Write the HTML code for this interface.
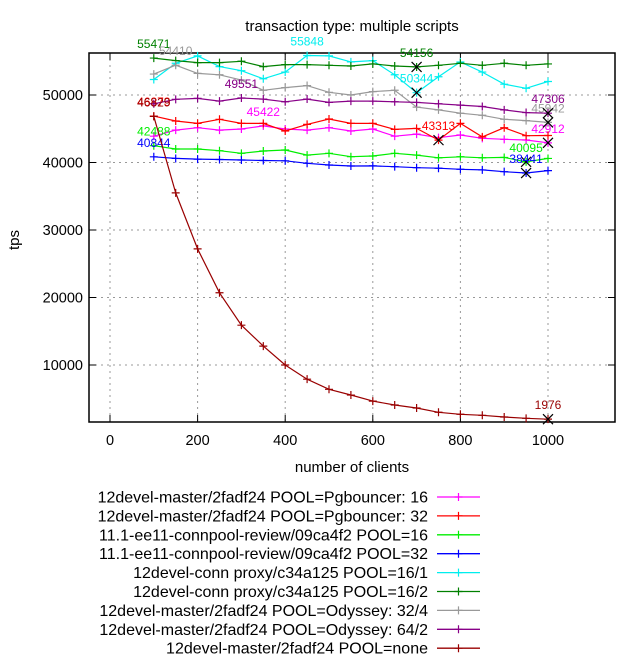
<!DOCTYPE html>
<html><head><meta charset="utf-8"><style>
html,body{margin:0;padding:0;background:#fff;}
svg{display:block;font-family:"Liberation Sans",sans-serif;}
</style></head><body>
<svg id="chart" width="640" height="660" viewBox="0 0 640 660" xmlns="http://www.w3.org/2000/svg"></svg>
<script>
const xValues = [100,150,200,250,300,350,400,450,500,550,600,650,700,750,800,850,900,950,1000];
const seriesNames = [
 "12devel-master/2fadf24 POOL=Pgbouncer: 16",
 "12devel-master/2fadf24 POOL=Pgbouncer: 32",
 "11.1-ee11-connpool-review/09ca4f2 POOL=16",
 "11.1-ee11-connpool-review/09ca4f2 POOL=32",
 "12devel-conn proxy/c34a125 POOL=16/1",
 "12devel-conn proxy/c34a125 POOL=16/2",
 "12devel-master/2fadf24 POOL=Odyssey: 32/4",
 "12devel-master/2fadf24 POOL=Odyssey: 64/2",
 "12devel-master/2fadf24 POOL=none"];
const seriesColors = ["#ff00ff","#ff0000","#00ee00","#0000ff","#00eeee","#008000","#999999","#880088","#990000"];
const sPgb16 = [43900,44800,45150,44800,44960,45422,44960,44800,45150,44660,44960,43900,44200,43680,44070,43580,43430,43330,42912];
const sPgb32 = [46873,46150,45800,46400,45800,45800,44670,45650,46450,45800,45800,44900,45050,43313,45800,43800,45150,43970,44000];
const sEe16 = [42488,42000,42000,41750,41360,41700,41850,41100,41360,40860,40960,41360,41100,40700,40850,40700,40750,40095,40600];
const sEe32 = [40844,40600,40500,40450,40370,40300,40250,39880,39630,39480,39500,39380,39230,39150,39000,38900,38640,38441,38800];
const sProxy161 = [52300,54700,55800,54200,53600,52400,53400,55848,55800,54900,55100,53000,50344,52700,54900,53400,51600,51000,52000];
const sProxy162 = [55471,55100,54800,54800,55000,54200,54500,54500,54400,54300,54600,54300,54156,54400,54700,54400,54700,54400,54600];
const sOdy324 = [53100,54410,53200,53000,52200,50700,51100,51400,50400,50000,50500,50700,48200,47800,47300,47000,46400,46200,45942];
const sOdy642 = [48700,49360,49500,49100,49551,49400,49000,49400,48900,49100,49100,49000,48900,48700,48500,48300,47800,47400,47306];
const sNone = [46829,35500,27200,20700,15900,12800,10000,7900,6400,5550,4650,4070,3630,3000,2700,2550,2300,2100,1976];
const allSeries = [sPgb16,sPgb32,sEe16,sEe32,sProxy161,sProxy162,sOdy324,sOdy642,sNone];
const xTicks = [0,200,400,600,800,1000];
const yTicks = [10000,20000,30000,40000,50000];

const L=89,R=615,T=53,B=422;
function sx(v){return 110+0.438*v;}
function sy(v){return 432.5-0.00675*v;}
const svg=document.getElementById('chart');
const NS="http://www.w3.org/2000/svg";
function mk(tag,attrs,parent){const e=document.createElementNS(NS,tag);for(const k in attrs)e.setAttribute(k,attrs[k]);(parent||svg).appendChild(e);return e;}

xTicks.forEach(t=>{
 const x=sx(t);
 const g=mk('line',{x1:x,y1:T,x2:x,y2:B,stroke:'#999','stroke-dasharray':'2,4','stroke-width':1});
 
 
 mk('line',{x1:x,y1:B,x2:x,y2:B-7,stroke:'#000'});
 mk('line',{x1:x,y1:T,x2:x,y2:T+7,stroke:'#000'});
 const tx=mk('text',{x:x,y:B+23,'font-size':14.5,'text-anchor':'middle',fill:'#000'});
 tx.textContent=t;
 
 
});
yTicks.forEach(t=>{
 const y=sy(t);
 const g=mk('line',{x1:L,y1:y,x2:R,y2:y,stroke:'#999','stroke-dasharray':'2,4','stroke-width':1});
 
 
 mk('line',{x1:L,y1:y,x2:L+7,y2:y,stroke:'#000'});
 mk('line',{x1:R,y1:y,x2:R-7,y2:y,stroke:'#000'});
 const tx=mk('text',{x:L-6,y:y+5,'font-size':14.5,'text-anchor':'end',fill:'#000'});
 tx.textContent=t;
 
 
});
const border=mk('rect',{x:L,y:T,width:R-L,height:B-T,fill:'none',stroke:'#000','stroke-width':1.5});



function plus(x,y,c,p){mk('path',{d:`M${x-4},${y}h8M${x},${y-4}v8`,stroke:c,'stroke-width':1.2,fill:'none'},p);}

allSeries.forEach((s,i)=>{
 const c=seriesColors[i];
 const g=mk('g',{});
 
 
 const pts=s.map((v,j)=>sx(xValues[j]).toFixed(1)+','+sy(v).toFixed(1)).join(' ');
 const pl=mk('polyline',{points:pts,fill:'none',stroke:c,'stroke-width':1.2},g);
 
 
 s.forEach((v,j)=>plus(sx(xValues[j]),sy(v),c,g));
 let mi=0,ma=0;
 s.forEach((v,j)=>{if(v>s[ma])ma=j;if(v<s[mi])mi=j;});
 [ma,mi].forEach((k,idx)=>{
  const x=sx(xValues[k]),y=sy(s[k]);
  const t=mk('text',{x:x,y:y-10,'font-size':12,'text-anchor':'middle',fill:c},g);
  t.textContent=s[k];
  
  
  if(idx===1){mk('path',{d:`M${x-5},${y-5}L${x+5},${y+5}M${x-5},${y+5}L${x+5},${y-5}`,stroke:'#000','stroke-width':1.2},g);}
 });
});

const title=mk('text',{x:352,y:31,'font-size':15,'text-anchor':'middle',fill:'#000'});
title.textContent='transaction type: multiple scripts';


const xt=mk('text',{x:352,y:472,'font-size':15,'text-anchor':'middle',fill:'#000'});
xt.textContent='number of clients';


const yt=mk('text',{x:19,y:240,'font-size':15,'text-anchor':'middle',fill:'#000',transform:'rotate(-90 19 240)'});
yt.textContent='tps';



seriesNames.forEach((n,i)=>{
 const y=497+i*18.9;
 const g=mk('g',{});
 
 
 const t=mk('text',{x:428,y:y+5.5,'font-size':16,'text-anchor':'end',fill:'#000'},g);
 t.textContent=n;
 mk('line',{x1:437,y1:y,x2:480,y2:y,stroke:seriesColors[i],'stroke-width':1.3},g);
 plus(458.5,y,seriesColors[i],g);
});
</script>
</body></html>
